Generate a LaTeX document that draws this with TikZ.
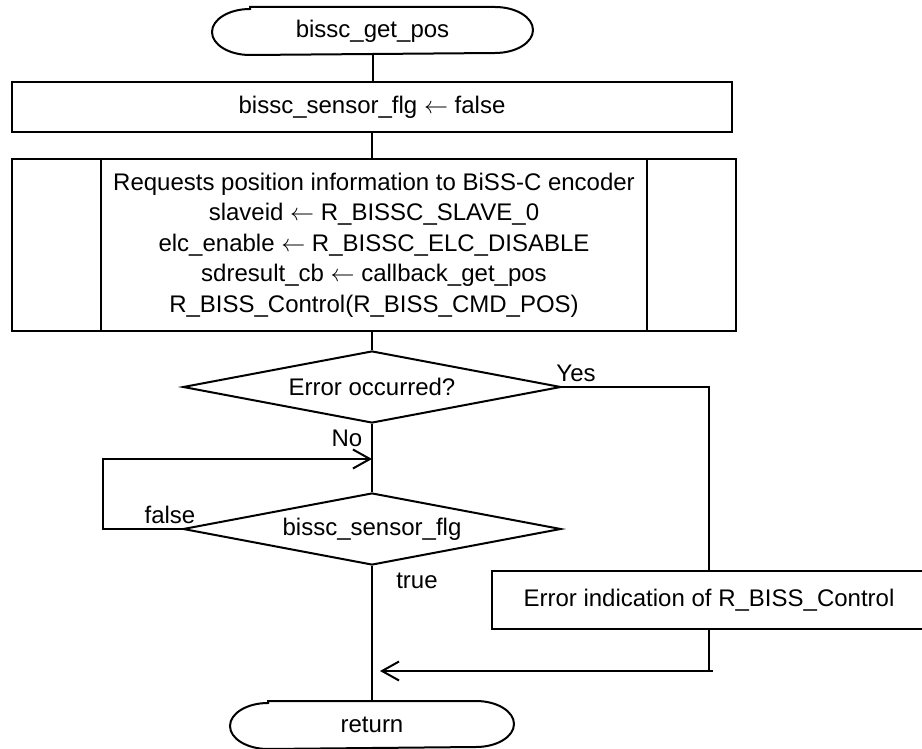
\documentclass[tikz,border=0pt]{standalone}
\usepackage{fontspec}
\setmainfont{Liberation Sans}
\usetikzlibrary{shapes.geometric,arrows.meta}
\newcommand{\termdraw}[1]{%
  \draw ([xshift=19pt]#1.north west) -- ([xshift=-19pt]#1.north east)
    arc[start angle=90,end angle=-90,x radius=19pt,y radius=11.5pt]
    -- ([xshift=19pt]#1.south west)
    arc[start angle=270,end angle=90,x radius=19pt,y radius=11.5pt] -- cycle;}
\newcommand{\larr}{\ $\leftarrow$\ }
\begin{document}
\begin{tikzpicture}[x=0.5pt,y=-0.5pt,line width=1pt,
  every node/.style={font=\fontsize{12pt}{15.2pt}\selectfont,inner sep=0pt},
  procbox/.style={draw,rectangle,align=center},
  termbox/.style={rectangle,minimum height=23pt},
  decbox/.style={draw,diamond,aspect=5.25,minimum width=189pt,minimum height=36pt},
  arr/.style={-{Straight Barb[length=8.5pt,width=9.5pt]}}]
\useasboundingbox (0,0) rectangle (922,749);
\clip (0,0) rectangle (922,749);
% nodes
\node[termbox,minimum width=159.5pt] (s) at (372.5,31) {bissc\_get\_pos};
\termdraw{s}
\node[procbox,minimum width=360pt,minimum height=25pt] (b1) at (372,107) {bissc\_sensor\_flg\larr false};
\node[procbox,minimum width=362pt,minimum height=86pt] (b2) at (374,245)
  {Requests position information to BiSS-C encoder\\
   slaveid\larr R\_BISSC\_SLAVE\_0\\
   elc\_enable\larr R\_BISSC\_ELC\_DISABLE\\
   sdresult\_cb\larr callback\_get\_pos\\
   R\_BISS\_Control(R\_BISS\_CMD\_POS)};
\draw ([xshift=45pt]b2.north west) -- ([xshift=45pt]b2.south west);
\draw ([xshift=-45pt]b2.north east) -- ([xshift=-45pt]b2.south east);
\node[decbox] (d1) at (372,387) {Error occurred?};
\node[decbox] (d2) at (372,529) {bissc\_sensor\_flg};
\node[procbox,minimum width=217pt,minimum height=29pt] (b3) at (709,600) {Error indication of R\_BISS\_Control};
\node[termbox,minimum width=141pt] (r) at (372,725) {return};
\termdraw{r}
% labels
\node (yes) at (576,373) {Yes};
\node (no) at (347,438) {No};
\node (fl) at (170,515) {false};
\node (tr) at (417,581) {true};
% connectors
\coordinate (lp) at (103,459);
\coordinate (lpin) at (372,459);
\coordinate (yc) at (709,387);
\coordinate (jb) at (709,671);
\coordinate (jbx) at (713,671);
\coordinate (jend) at (380,671);
\draw (s.south) -- (s.south |- b1.north);
\draw (b1.south) -- (b1.south |- b2.north);
\draw (d1.north |- b2.south) -- (d1.north);
\draw (d1.south) -- (d2.north);
\draw[arr] (d2.west) -| (lp) -- (lpin);
\draw (d1.east) -- (yc) -- (b3.north);
\draw (b3.south) -- (jb);
\draw[arr] (jbx) -- (jend);
\draw (d2.south) -- (r.north);
\end{tikzpicture}
\end{document}
